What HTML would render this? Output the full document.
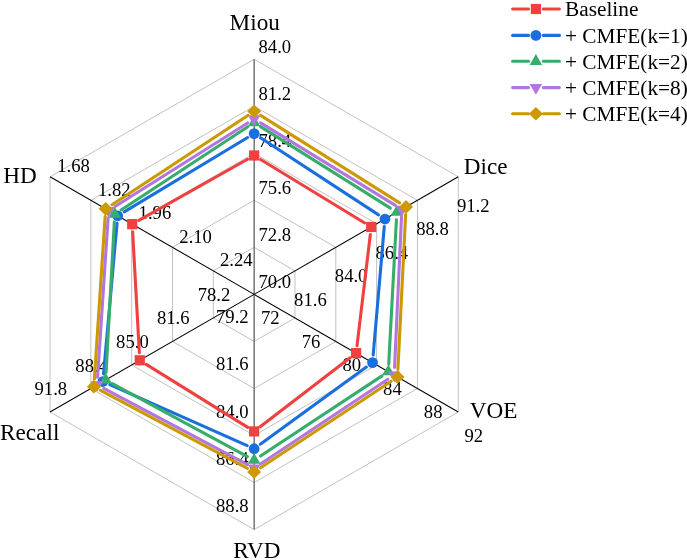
<!DOCTYPE html>
<html><head><meta charset="utf-8"><title>Radar</title>
<style>html,body{margin:0;padding:0;background:#fff;overflow:hidden}body{width:687px;height:560px}</style></head>
<body>
<svg width="687" height="560" viewBox="0 0 687 560" style="display:block">
<rect width="687" height="560" fill="#fff"/>
<polygon points="254.15,247.36 294.97,270.88 294.97,317.92 254.15,341.44 213.33,317.92 213.33,270.88" fill="none" stroke="#c2c2c2" stroke-width="1"/>
<polygon points="254.15,200.32 335.80,247.36 335.80,341.44 254.15,388.48 172.50,341.44 172.50,247.36" fill="none" stroke="#c2c2c2" stroke-width="1"/>
<polygon points="254.15,153.28 376.62,223.84 376.62,364.96 254.15,435.52 131.68,364.96 131.68,223.84" fill="none" stroke="#c2c2c2" stroke-width="1"/>
<polygon points="254.15,106.24 417.45,200.32 417.45,388.48 254.15,482.56 90.85,388.48 90.85,200.32" fill="none" stroke="#c2c2c2" stroke-width="1"/>
<polygon points="254.15,59.20 458.27,176.80 458.27,412.00 254.15,529.60 50.03,412.00 50.03,176.80" fill="none" stroke="#c2c2c2" stroke-width="1"/>
<line x1="254.15" y1="294.4" x2="254.15" y2="59.20" stroke="#555" stroke-width="1.2"/>
<line x1="254.15" y1="294.4" x2="458.27" y2="176.80" stroke="#000" stroke-width="1.05"/>
<line x1="254.15" y1="294.4" x2="458.27" y2="412.00" stroke="#000" stroke-width="1.05"/>
<line x1="254.15" y1="294.4" x2="254.15" y2="529.60" stroke="#555" stroke-width="1.2"/>
<line x1="254.15" y1="294.4" x2="50.03" y2="412.00" stroke="#000" stroke-width="1.05"/>
<line x1="254.15" y1="294.4" x2="50.03" y2="176.80" stroke="#000" stroke-width="1.05"/>
<g font-family="'Liberation Serif', serif" font-size="18.67" fill="#000">
<text x="258.50" y="288.00">70.0</text>
<text x="258.50" y="241.00">72.8</text>
<text x="258.50" y="194.00">75.6</text>
<text x="258.50" y="147.00">78.4</text>
<text x="258.50" y="100.00">81.2</text>
<text x="258.50" y="53.00">84.0</text>
<text x="294.10" y="305.90">81.6</text>
<text x="334.80" y="282.40">84.0</text>
<text x="375.50" y="258.90">86.4</text>
<text x="416.20" y="235.40">88.8</text>
<text x="456.90" y="211.90">91.2</text>
<text x="261.00" y="324.00">72</text>
<text x="301.70" y="347.50">76</text>
<text x="342.40" y="371.00">80</text>
<text x="383.10" y="394.50">84</text>
<text x="423.80" y="418.00">88</text>
<text x="464.50" y="441.50">92</text>
<text x="216.00" y="323.00">79.2</text>
<text x="216.00" y="370.35">81.6</text>
<text x="216.00" y="417.70">84.0</text>
<text x="216.00" y="465.05">86.4</text>
<text x="216.00" y="512.40">88.8</text>
<text x="197.70" y="300.50">78.2</text>
<text x="156.90" y="324.00">81.6</text>
<text x="116.10" y="347.60">85.0</text>
<text x="75.30" y="372.30">88.4</text>
<text x="34.50" y="395.20">91.8</text>
<text x="220.00" y="266.20">2.24</text>
<text x="179.30" y="242.70">2.10</text>
<text x="138.60" y="219.20">1.96</text>
<text x="97.90" y="195.70">1.82</text>
<text x="57.20" y="172.20">1.68</text>
</g>
<g font-family="'Liberation Serif', serif" font-size="23.2" fill="#000">
<text x="229.6" y="29.5">Miou</text>
<text x="463.7" y="174">Dice</text>
<text x="469.8" y="418.2">VOE</text>
<text x="233.3" y="558.3">RVD</text>
<text x="0.1" y="439.6">Recall</text>
<text x="3.2" y="182.5">HD</text>
</g>
<g>
<line x1="260.64" y1="159.46" x2="364.74" y2="222.99" stroke="#F14040" stroke-width="3.1" stroke-linecap="round"/>
<line x1="370.32" y1="234.50" x2="357.03" y2="345.60" stroke="#F14040" stroke-width="3.1" stroke-linecap="round"/>
<line x1="350.09" y1="357.78" x2="260.18" y2="426.77" stroke="#F14040" stroke-width="3.1" stroke-linecap="round"/>
<line x1="247.70" y1="427.39" x2="146.22" y2="364.31" stroke="#F14040" stroke-width="3.1" stroke-linecap="round"/>
<line x1="139.34" y1="352.71" x2="132.64" y2="231.74" stroke="#F14040" stroke-width="3.1" stroke-linecap="round"/>
<line x1="138.84" y1="220.42" x2="247.53" y2="159.23" stroke="#F14040" stroke-width="3.1" stroke-linecap="round"/>
<rect x="249.05" y="150.40" width="10.2" height="10.2" fill="#F14040"/>
<rect x="366.13" y="221.85" width="10.2" height="10.2" fill="#F14040"/>
<rect x="351.02" y="348.05" width="10.2" height="10.2" fill="#F14040"/>
<rect x="249.05" y="426.30" width="10.2" height="10.2" fill="#F14040"/>
<rect x="134.67" y="355.20" width="10.2" height="10.2" fill="#F14040"/>
<rect x="127.11" y="219.05" width="10.2" height="10.2" fill="#F14040"/>
</g>
<g>
<line x1="260.51" y1="137.76" x2="378.58" y2="214.89" stroke="#1A6FDF" stroke-width="3.1" stroke-linecap="round"/>
<line x1="384.28" y1="226.62" x2="373.18" y2="355.03" stroke="#1A6FDF" stroke-width="3.1" stroke-linecap="round"/>
<line x1="366.38" y1="367.07" x2="260.30" y2="444.23" stroke="#1A6FDF" stroke-width="3.1" stroke-linecap="round"/>
<line x1="247.20" y1="445.62" x2="109.83" y2="384.63" stroke="#1A6FDF" stroke-width="3.1" stroke-linecap="round"/>
<line x1="103.56" y1="373.98" x2="117.04" y2="223.37" stroke="#1A6FDF" stroke-width="3.1" stroke-linecap="round"/>
<line x1="124.23" y1="211.88" x2="247.64" y2="137.52" stroke="#1A6FDF" stroke-width="3.1" stroke-linecap="round"/>
<circle cx="254.15" cy="133.60" r="5.4" fill="#1A6FDF"/>
<circle cx="384.94" cy="219.05" r="5.4" fill="#1A6FDF"/>
<circle cx="372.53" cy="362.60" r="5.4" fill="#1A6FDF"/>
<circle cx="254.15" cy="448.70" r="5.4" fill="#1A6FDF"/>
<circle cx="102.88" cy="381.55" r="5.4" fill="#1A6FDF"/>
<circle cx="117.72" cy="215.80" r="5.4" fill="#1A6FDF"/>
</g>
<g>
<line x1="260.59" y1="126.64" x2="390.39" y2="208.16" stroke="#37AD6B" stroke-width="3.1" stroke-linecap="round"/>
<line x1="396.42" y1="219.79" x2="388.73" y2="364.11" stroke="#37AD6B" stroke-width="3.1" stroke-linecap="round"/>
<line x1="381.98" y1="375.88" x2="260.49" y2="456.02" stroke="#37AD6B" stroke-width="3.1" stroke-linecap="round"/>
<line x1="247.46" y1="456.59" x2="112.34" y2="383.56" stroke="#37AD6B" stroke-width="3.1" stroke-linecap="round"/>
<line x1="106.08" y1="372.36" x2="114.35" y2="221.69" stroke="#37AD6B" stroke-width="3.1" stroke-linecap="round"/>
<line x1="121.12" y1="209.93" x2="247.80" y2="126.77" stroke="#37AD6B" stroke-width="3.1" stroke-linecap="round"/>
<polygon points="247.90,126.20 260.40,126.20 254.15,115.40" fill="#37AD6B"/>
<polygon points="390.58,215.80 403.08,215.80 396.83,205.00" fill="#37AD6B"/>
<polygon points="382.07,375.30 394.57,375.30 388.32,364.50" fill="#37AD6B"/>
<polygon points="247.90,463.80 260.40,463.80 254.15,453.00" fill="#37AD6B"/>
<polygon points="99.41,383.55 111.91,383.55 105.66,372.75" fill="#37AD6B"/>
<polygon points="108.52,217.70 121.02,217.70 114.77,206.90" fill="#37AD6B"/>
</g>
<g>
<line x1="260.63" y1="122.87" x2="395.38" y2="205.33" stroke="#B177DE" stroke-width="3.1" stroke-linecap="round"/>
<line x1="401.51" y1="216.89" x2="394.57" y2="367.51" stroke="#B177DE" stroke-width="3.1" stroke-linecap="round"/>
<line x1="387.89" y1="379.31" x2="260.48" y2="463.99" stroke="#B177DE" stroke-width="3.1" stroke-linecap="round"/>
<line x1="247.44" y1="464.64" x2="103.78" y2="388.46" stroke="#B177DE" stroke-width="3.1" stroke-linecap="round"/>
<line x1="97.57" y1="377.32" x2="108.11" y2="218.13" stroke="#B177DE" stroke-width="3.1" stroke-linecap="round"/>
<line x1="115.04" y1="206.50" x2="247.72" y2="122.95" stroke="#B177DE" stroke-width="3.1" stroke-linecap="round"/>
<polygon points="247.90,115.30 260.40,115.30 254.15,126.10" fill="#B177DE"/>
<polygon points="395.61,205.70 408.11,205.70 401.86,216.50" fill="#B177DE"/>
<polygon points="387.97,371.50 400.47,371.50 394.22,382.30" fill="#B177DE"/>
<polygon points="247.90,464.60 260.40,464.60 254.15,475.40" fill="#B177DE"/>
<polygon points="90.82,381.30 103.32,381.30 97.07,392.10" fill="#B177DE"/>
<polygon points="102.36,206.95 114.86,206.95 108.61,217.75" fill="#B177DE"/>
</g>
<g>
<line x1="260.58" y1="115.35" x2="399.59" y2="202.85" stroke="#CC9900" stroke-width="3.1" stroke-linecap="round"/>
<line x1="405.65" y1="214.49" x2="397.90" y2="369.41" stroke="#CC9900" stroke-width="3.1" stroke-linecap="round"/>
<line x1="391.18" y1="381.19" x2="260.49" y2="467.71" stroke="#CC9900" stroke-width="3.1" stroke-linecap="round"/>
<line x1="247.44" y1="468.33" x2="100.57" y2="390.32" stroke="#CC9900" stroke-width="3.1" stroke-linecap="round"/>
<line x1="94.36" y1="379.17" x2="105.15" y2="216.43" stroke="#CC9900" stroke-width="3.1" stroke-linecap="round"/>
<line x1="112.01" y1="204.68" x2="247.80" y2="115.47" stroke="#CC9900" stroke-width="3.1" stroke-linecap="round"/>
<polygon points="247.15,111.30 254.15,104.50 261.15,111.30 254.15,118.10" fill="#CC9900"/>
<polygon points="399.03,206.90 406.03,200.10 413.03,206.90 406.03,213.70" fill="#CC9900"/>
<polygon points="390.52,377.00 397.52,370.20 404.52,377.00 397.52,383.80" fill="#CC9900"/>
<polygon points="247.15,471.90 254.15,465.10 261.15,471.90 254.15,478.70" fill="#CC9900"/>
<polygon points="86.86,386.75 93.86,379.95 100.86,386.75 93.86,393.55" fill="#CC9900"/>
<polygon points="98.66,208.85 105.66,202.05 112.66,208.85 105.66,215.65" fill="#CC9900"/>
</g>
<g font-family="'Liberation Serif', serif" font-size="21.3" fill="#000">
<line x1="512.6" y1="9" x2="528.5" y2="9" stroke="#F14040" stroke-width="3.1" stroke-linecap="round"/>
<line x1="543.3" y1="9" x2="559.4" y2="9" stroke="#F14040" stroke-width="3.1" stroke-linecap="round"/>
<rect x="530.80" y="3.90" width="10.2" height="10.2" fill="#F14040"/>
<text x="565.0" y="16.20">Baseline</text>
<line x1="512.6" y1="35.4" x2="528.5" y2="35.4" stroke="#1A6FDF" stroke-width="3.1" stroke-linecap="round"/>
<line x1="543.3" y1="35.4" x2="559.4" y2="35.4" stroke="#1A6FDF" stroke-width="3.1" stroke-linecap="round"/>
<circle cx="535.90" cy="35.40" r="5.4" fill="#1A6FDF"/>
<text x="565.0" y="42.60">+ CMFE(k=1)</text>
<line x1="512.6" y1="61.3" x2="528.5" y2="61.3" stroke="#37AD6B" stroke-width="3.1" stroke-linecap="round"/>
<line x1="543.3" y1="61.3" x2="559.4" y2="61.3" stroke="#37AD6B" stroke-width="3.1" stroke-linecap="round"/>
<polygon points="529.65,64.90 542.15,64.90 535.90,54.10" fill="#37AD6B"/>
<text x="565.0" y="68.50">+ CMFE(k=2)</text>
<line x1="512.6" y1="87.6" x2="528.5" y2="87.6" stroke="#B177DE" stroke-width="3.1" stroke-linecap="round"/>
<line x1="543.3" y1="87.6" x2="559.4" y2="87.6" stroke="#B177DE" stroke-width="3.1" stroke-linecap="round"/>
<polygon points="529.65,84.00 542.15,84.00 535.90,94.80" fill="#B177DE"/>
<text x="565.0" y="94.80">+ CMFE(k=8)</text>
<line x1="512.6" y1="113.8" x2="528.5" y2="113.8" stroke="#CC9900" stroke-width="3.1" stroke-linecap="round"/>
<line x1="543.3" y1="113.8" x2="559.4" y2="113.8" stroke="#CC9900" stroke-width="3.1" stroke-linecap="round"/>
<polygon points="528.90,113.80 535.90,107.00 542.90,113.80 535.90,120.60" fill="#CC9900"/>
<text x="565.0" y="121.00">+ CMFE(k=4)</text>
</g>
</svg>
</body></html>
